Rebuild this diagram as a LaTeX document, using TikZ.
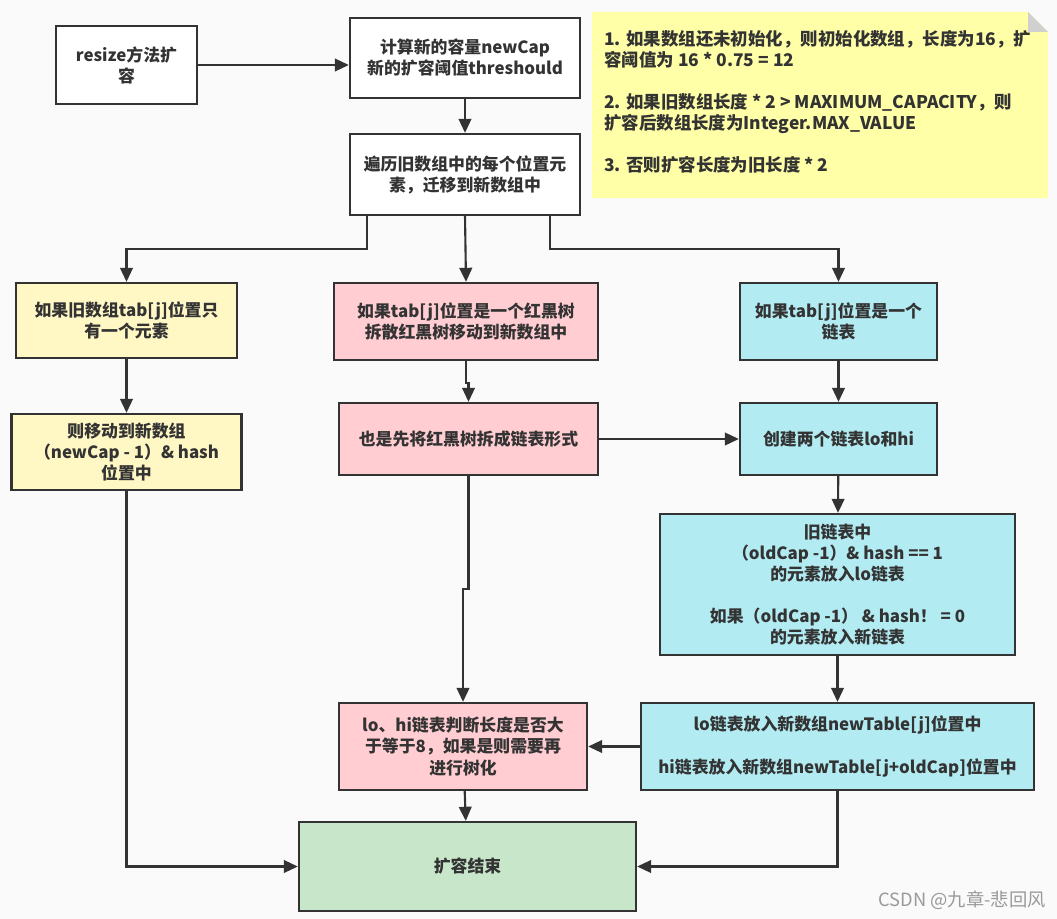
\documentclass[tikz,border=0pt]{standalone}
\usepackage{fontspec}
\setmainfont{Noto Sans CJK SC}
\usetikzlibrary{arrows.meta,calc}
\definecolor{linegray}{HTML}{333333}
\definecolor{boxyellow}{HTML}{FFF7C4}
\definecolor{boxpink}{HTML}{FFCDD2}
\definecolor{boxcyan}{HTML}{B2EBF2}
\definecolor{boxgreen}{HTML}{C8E6C9}
\definecolor{noteyellow}{HTML}{FFFFA8}
\definecolor{foldgray}{HTML}{D0D0D0}
\definecolor{bggray}{HTML}{FAFAFA}

\begin{document}
\begin{tikzpicture}[
  x=0.025cm, y=-0.025cm,
  box/.style={draw=linegray, line width=1.6pt, align=center, text=linegray,
              font=\fontsize{12}{15}\selectfont\bfseries, inner sep=2pt},
  arr/.style={-{Triangle[length=10pt,width=9pt]}, line width=1.5pt, draw=linegray},
  lbl/.style={font=\fontsize{12.4}{15}\selectfont\bfseries, text=linegray, align=left},
]

% ---- canvas ----
\fill[bggray] (0,0) rectangle (1057,919);
\useasboundingbox (0,0) rectangle (1057,919);

% ---- top row ----
\node[box, fill=white, minimum width=3.525cm, minimum height=1.95cm]
  (resize) at (126.5,65) {resize方法扩\\容};

\node[box, fill=white, minimum width=5.75cm, minimum height=2cm]
  (calc) at (465,58) {计算新的容量newCap\\新的扩容阈值threshould};

\node[box, fill=white, minimum width=5.75cm, minimum height=2.025cm]
  (traverse) at (465,174.5) {遍历旧数组中的每个位置元\\素，迁移到新数组中};

\draw[arr] (resize.east) -- (resize.east -| calc.west);
\draw[arr] (calc) -- (traverse);

% ---- note ----
\fill[noteyellow] (592,12) -- (1028,12) -- (1048,32) -- (1048,198) -- (592,198) -- cycle;
\fill[foldgray] (1028,12) -- (1048,32) -- (1028,32) -- cycle;
\node[lbl, anchor=north west, inner sep=0pt] (note) at (604,30)
  {1. 如果数组还未初始化，则初始化数组，长度为16，扩\\
   容阈值为 16 * 0.75 = 12\\[15pt]
   2. 如果旧数组长度 * 2 > MAXIMUM\_CAPACITY，则\\
   扩容后数组长度为Integer.MAX\_VALUE\\[15pt]
   3. 否则扩容长度为旧长度 * 2};

% ---- branches ----
\node[box, fill=boxyellow, minimum width=5.525cm, minimum height=1.875cm]
  (single) at (126.5,320.5) {如果旧数组tab[j]位置只\\有一个元素};

\node[box, fill=boxpink, minimum width=6.6cm, minimum height=1.925cm]
  (tree) at (466,321.5) {如果tab[j]位置是一个红黑树\\拆散红黑树移动到新数组中};

\node[box, fill=boxcyan, minimum width=4.925cm, minimum height=1.925cm]
  (list) at (838.5,321.5) {如果tab[j]位置是一个\\链表};

\draw[arr] ($(traverse.south west)+(18,0)$) -- ++(0,33) -| (single.north);
\draw[arr] (traverse.south) -- (tree.north);
\draw[arr] ($(traverse.south east)+(-31,0)$) -- ++(0,33) -| (list.north);

% ---- second row ----
\node[box, fill=boxyellow, minimum width=5.75cm, minimum height=1.9cm]
  (move) at (126.5,452) {则移动到新数组\\（newCap - 1）\& hash\\位置中};

\node[box, fill=boxpink, minimum width=6.475cm, minimum height=1.8cm]
  (split) at (468.5,439) {也是先将红黑树拆成链表形式};

\node[box, fill=boxcyan, minimum width=4.925cm, minimum height=1.8cm]
  (lohi) at (838.5,439) {创建两个链表lo和hi};

\draw[arr] (single) -- (move);
\draw[arr] (tree.south) -- ++(0,22) -| (split.north);
\draw[arr] (list) -- (lohi);
\draw[arr] (split) -- (lohi);

% ---- lists ----
\node[box, fill=boxcyan, minimum width=8.875cm, minimum height=3.525cm]
  (sort) at (837.5,584.5)
  {旧链表中\\（oldCap -1）\& hash == 1\\的元素放入lo链表\\[15pt]
   如果（oldCap -1） \& hash！ = 0\\的元素放入新链表};

\node[box, fill=boxcyan, minimum width=9.825cm, minimum height=2.175cm]
  (place) at (837.5,746.5)
  {lo链表放入新数组newTable[j]位置中\\[15pt]
   hi链表放入新数组newTable[j+oldCap]位置中};

\node[box, fill=boxpink, minimum width=6.2cm, minimum height=2.175cm]
  (treeify) at (463,746.5) {lo、hi链表判断长度是否大\\于等于8，如果是则需要再\\进行树化};

\draw[arr] (lohi) -- (sort);
\draw[arr] (sort) -- (place);
\draw[arr] (place) -- (treeify);
\draw[arr] (split.south) -- ++(0,113) -| (treeify.north);

% ---- end ----
\node[box, fill=boxgreen, minimum width=8.425cm, minimum height=2.225cm]
  (done) at (467.5,866.5) {扩容结束};

\draw[arr] (treeify) -- (done);
\draw[arr] (move.south) |- (done.west);
\draw[arr] (place.south) |- (done.east);

% ---- watermark ----
\node[font=\fontsize{13}{15}\selectfont, text=black!40, anchor=east, inner sep=0pt]
  (mark) at (1046,900) {CSDN @九章-悲回风};

\end{tikzpicture}
\end{document}
